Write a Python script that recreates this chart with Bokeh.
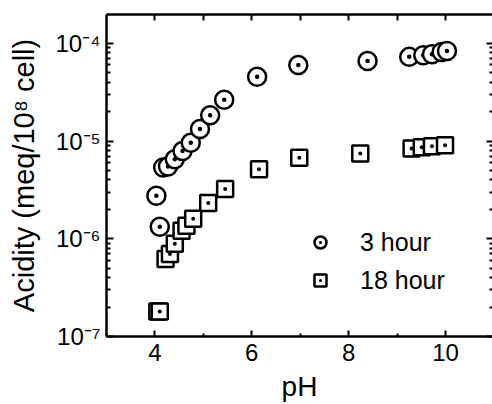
from bokeh.plotting import figure
from bokeh.models import (FixedTicker, LinearAxis, LogAxis, Range1d,
                          CustomJSTickFormatter, Legend, LegendItem)
from bokeh.embed import file_html
from bokeh.resources import INLINE

# ---- data ----
ph_3h = [4.03, 4.10, 4.17, 4.27, 4.41, 4.57, 4.74, 4.93, 5.14, 5.43,
         6.11, 6.96, 8.39, 9.25, 9.54, 9.72, 9.92, 10.03]
acid_3h = [2.75e-6, 1.33e-6, 5.35e-6, 5.5e-6, 6.5e-6, 7.9e-6, 9.6e-6, 1.33e-5, 1.83e-5, 2.64e-5,
           4.55e-5, 5.98e-5, 6.6e-5, 7.26e-5, 7.55e-5, 7.73e-5, 8.16e-5, 8.35e-5]

ph_18h = [4.05, 4.10, 4.22, 4.31, 4.41, 4.55, 4.65, 4.79, 5.10, 5.45,
          6.15, 6.98, 8.24, 9.30, 9.51, 9.72, 9.99]
acid_18h = [1.8e-7, 1.8e-7, 6.2e-7, 7.0e-7, 8.9e-7, 1.21e-6, 1.36e-6, 1.6e-6, 2.32e-6, 3.22e-6,
            5.14e-6, 6.75e-6, 7.46e-6, 8.4e-6, 8.65e-6, 8.85e-6, 9.06e-6]

series_labels = ["3 hour", "18 hour"]
x_title = "pH"
y_title = "Acidity (meq/10\u2078 cell)"

x_major = [4, 6, 8, 10]
x_minor = [3, 5, 7, 9, 11]
x_top = [4, 5, 6, 7, 8, 9, 10]
y_major = [1e-7, 1e-6, 1e-5, 1e-4]
y_minor = [m * d for d in y_major for m in range(2, 10)]

FONT = "Liberation Sans"

p = figure(width=492, height=404, y_axis_type="log",
           x_range=Range1d(3, 10.97), y_range=Range1d(1e-7, 1.97e-4),
           output_backend="svg", toolbar_location=None,
           min_border_left=106, min_border_right=0, min_border_top=14, min_border_bottom=65)
p.grid.visible = False
p.outline_line_color = None
p.background_fill_color = "white"
p.border_fill_color = "white"

r3 = p.scatter(ph_3h, acid_3h, marker="circle_dot", size=18, line_color="black",
               line_width=2.5, fill_color="white")
r18 = p.scatter(ph_18h, acid_18h, marker="square_dot", size=16, line_color="black",
                line_width=2.5, fill_color="white")

sup_code = """
const sup = {"-":"\u207b","0":"\u2070","1":"\u00b9","2":"\u00b2","3":"\u00b3","4":"\u2074",
             "5":"\u2075","6":"\u2076","7":"\u2077","8":"\u2078","9":"\u2079"};
const e = Math.round(Math.log10(tick));
return "10" + String(e).split("").map(c => sup[c]).join("");
"""
blank_code = "return '';"

def style_axis(ax, lw=2.5):
    ax.axis_line_width = lw
    ax.axis_line_color = "black"
    ax.major_tick_line_width = 2
    ax.minor_tick_line_width = 2
    ax.major_tick_line_color = "black"
    ax.minor_tick_line_color = "black"
    ax.major_tick_out = 0
    ax.minor_tick_out = 0
    ax.major_label_text_font = FONT
    ax.major_label_text_color = "black"
    ax.axis_label_text_font = FONT
    ax.axis_label_text_font_style = "normal"
    ax.axis_label_text_color = "black"

# bottom axis
xa = p.xaxis[0]
xa.ticker = FixedTicker(ticks=x_major, minor_ticks=x_minor)
style_axis(xa)
xa.major_tick_in = 6
xa.minor_tick_in = 3
xa.major_label_text_font_size = "24px"
xa.major_label_standoff = 7
xa.axis_label = x_title
xa.axis_label_text_font_size = "28px"
xa.axis_label_standoff = 7

# left axis
ya = p.yaxis[0]
ya.ticker = FixedTicker(ticks=y_major, minor_ticks=y_minor)
ya.formatter = CustomJSTickFormatter(code=sup_code)
style_axis(ya)
ya.major_tick_in = 7
ya.minor_tick_in = 4
ya.major_label_text_font_size = "24px"
ya.major_label_standoff = 6
ya.axis_label = y_title
ya.axis_label_text_font_size = "29px"
ya.axis_label_standoff = 12

# top axis (ticks only)
ta = LinearAxis(ticker=FixedTicker(ticks=x_top, minor_ticks=[]),
                formatter=CustomJSTickFormatter(code=blank_code))
style_axis(ta)
ta.major_tick_in = 6
ta.major_label_standoff = 0
p.add_layout(ta, "above")

# right axis (ticks only, spine falls just outside the picture)
ra = LogAxis(ticker=FixedTicker(ticks=y_major, minor_ticks=y_minor),
             formatter=CustomJSTickFormatter(code=blank_code))
style_axis(ra)
ra.axis_line_alpha = 0
ra.major_tick_in = 6
ra.minor_tick_in = 3
ra.major_label_standoff = 0
p.add_layout(ra, "right")

legend = Legend(items=[LegendItem(label=series_labels[0], renderers=[r3]),
                       LegendItem(label=series_labels[1], renderers=[r18])],
                location=(199, 41), glyph_width=30, glyph_height=30,
                label_standoff=25, spacing=8, padding=0, margin=0,
                border_line_alpha=0, background_fill_alpha=0,
                label_text_font=FONT, label_text_font_size="25px",
                label_text_color="black")
p.add_layout(legend)

open("out.html", "w").write(file_html(p, INLINE))
